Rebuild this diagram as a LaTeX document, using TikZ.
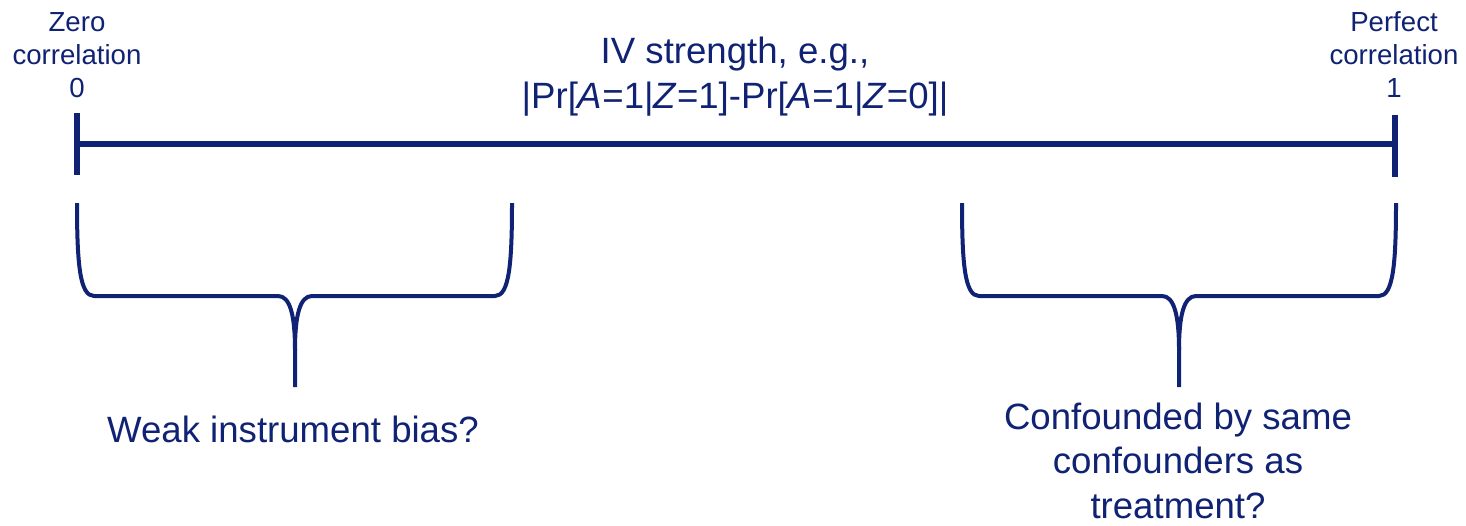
\documentclass[tikz,border=0pt]{standalone}
\usepackage{fontspec}
\setmainfont{Liberation Sans}
\usepackage{tikz}
\usetikzlibrary{positioning}
\definecolor{ivblue}{RGB}{16,34,115}

\begin{document}
\begin{tikzpicture}[x=0.5pt, y=-0.5pt, every node/.style={text=ivblue, inner sep=0pt, align=center},
  big/.style={font=\fontsize{18.3}{22.2}\selectfont},
  small/.style={font=\fontsize{13.8}{16.5}\selectfont},
  axis/.style={draw=ivblue, line width=3.2pt},
  bracket/.style={draw=ivblue, line width=2pt, line join=round}]
  \useasboundingbox (0,0) rectangle (1466,525);
  % Axis with end ticks
  \coordinate (lo) at (77,144);
  \coordinate (hi) at (1395,144);
  \draw[axis] (lo) -- (hi);
  \draw[axis] (lo) ++(0,-31) -- ++(0,62);
  \draw[axis] (hi) ++(0,-29) -- ++(0,62);

  % Labels (base = last line)
  \node[small, anchor=base] (zero) at (77,97) {Zero\\correlation\\0};
  \node[small, anchor=base] (perfect) at (1394,97) {Perfect\\correlation\\1};
  \node[big, anchor=base] (strength) at (735,108) {IV strength, e.g.,\\|Pr[\textit{A}=1|\textit{Z}=1]-Pr[\textit{A}=1|\textit{Z}=0]|};

  % Braces
  \foreach \l/\m/\r in {77/295/512, 962/1179/1396} {
    \draw[bracket] (\l,203) .. controls (\l,265) and (\l+3,296) .. (\l+17,296) -- (\m-17,296)
      .. controls (\m-5,296) and (\m,315) .. (\m,350) -- (\m,387);
    \draw[bracket] (\r,203) .. controls (\r,265) and (\r-3,296) .. (\r-17,296) -- (\m+17,296)
      .. controls (\m+5,296) and (\m,315) .. (\m,350);
  }

  \node[big, anchor=base] (weak) at (293,442) {Weak instrument bias?};
  \node[big, anchor=base] (confounded) at (1178,518) {Confounded by same\\confounders as\\treatment?};
\end{tikzpicture}
\end{document}
